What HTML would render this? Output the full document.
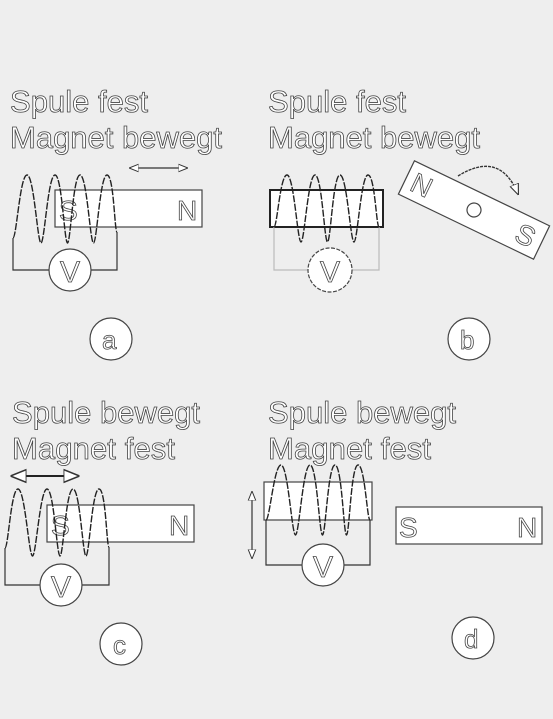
<!DOCTYPE html>
<html><head><meta charset="utf-8"><style>
html,body{margin:0;padding:0;background:#eeeeee;}
svg{display:block}
.t{font-family:"Liberation Sans",sans-serif;fill:#fff;stroke:#444;stroke-width:0.8;}
.coil{fill:none;stroke:#222;stroke-width:1.4;stroke-dasharray:7 1.5;}
.w{fill:none;stroke:#333;stroke-width:1.2}
.mag{fill:#fff;stroke:#444;stroke-width:1.2}
</style></head><body>
<svg id="s" width="553" height="719" viewBox="0 0 553 719">
<defs>
<marker id="ah" viewBox="0 0 10 10" refX="9" refY="5" markerWidth="8" markerHeight="8" orient="auto-start-reverse"><path d="M0,1 L10,5 L0,9 z" fill="#fff" stroke="#333" stroke-width="1"/></marker>
</defs>

<g>
<text class="t" x="10" y="112" font-size="31" textLength="138">Spule fest</text>
<text class="t" x="10" y="148" font-size="31" textLength="212">Magnet bewegt</text>
<line class="w" x1="130" y1="168" x2="187" y2="168" stroke-width="1" marker-start="url(#ah)" marker-end="url(#ah)"/>
<rect class="mag" x="55" y="190" width="147" height="37"/>
<text class="t" x="59" y="220" font-size="28">S</text>
<text class="t" x="177" y="220" font-size="28">N</text>
<path class="w" d="M13,238 V270 H49 M91,270 H117 V232"/>
<circle class="mag" cx="70" cy="270" r="21"/>
<text class="t" x="60" y="282" font-size="30">V</text>
<path class="coil" id="coilA"/>
<circle class="mag" cx="111" cy="339" r="21"/>
<text class="t" x="102" y="349" font-size="26">a</text>
</g>

<g>
<text class="t" x="268" y="112" font-size="31" textLength="138">Spule fest</text>
<text class="t" x="268" y="148" font-size="31" textLength="212">Magnet bewegt</text>
<rect x="270" y="190" width="113" height="37" fill="#fff" stroke="#222" stroke-width="2"/>
<path d="M274,227 V270 H308 M352,270 H379 V227" fill="none" stroke="#bbb" stroke-width="1.2"/>
<circle class="mag" cx="330" cy="270" r="22" stroke-dasharray="4 1.5"/>
<text class="t" x="320" y="282" font-size="30">V</text>
<path class="coil" id="coilB"/>
<g transform="translate(474,210) rotate(25.7)">
<rect class="mag" x="-75" y="-18.5" width="150" height="37"/>
<circle class="mag" cx="0" cy="0" r="7"/>
<text class="t" x="-68" y="10" font-size="28">N</text>
<text class="t" x="48" y="10" font-size="28">S</text>
</g>
<path d="M458,176 Q500,150 518,194" fill="none" stroke="#333" stroke-width="1.4" stroke-dasharray="3 1" marker-end="url(#ah)"/>
<circle class="mag" cx="469" cy="339" r="21"/>
<text class="t" x="460" y="349" font-size="26">b</text>
</g>

<g>
<text class="t" x="12" y="423" font-size="31" textLength="188">Spule bewegt</text>
<text class="t" x="12" y="459" font-size="31" textLength="163">Magnet fest</text>
<line x1="12" y1="476" x2="78" y2="476" stroke="#222" stroke-width="2" marker-start="url(#ah)" marker-end="url(#ah)"/>
<rect class="mag" x="47" y="505" width="147" height="37"/>
<text class="t" x="51" y="535" font-size="28">S</text>
<text class="t" x="169" y="535" font-size="28">N</text>
<path class="w" d="M5,548 V585 H40 M82,585 H109 V547"/>
<circle class="mag" cx="61" cy="585" r="21"/>
<text class="t" x="51" y="597" font-size="30">V</text>
<path class="coil" id="coilC"/>
<circle class="mag" cx="121" cy="644" r="21"/>
<text class="t" x="113" y="654" font-size="26">c</text>
</g>

<g>
<text class="t" x="268" y="423" font-size="31" textLength="188">Spule bewegt</text>
<text class="t" x="268" y="459" font-size="31" textLength="163">Magnet fest</text>
<rect class="mag" x="264" y="482" width="108" height="38"/>
<path class="w" d="M266,520 V565 H302 M344,565 H370 V520"/>
<circle class="mag" cx="323" cy="565" r="21"/>
<text class="t" x="313" y="577" font-size="30">V</text>
<path class="coil" id="coilD"/>
<line class="w" x1="252" y1="492" x2="252" y2="558" marker-start="url(#ah)" marker-end="url(#ah)"/>
<rect class="mag" x="396" y="507" width="146" height="37"/>
<text class="t" x="399" y="537" font-size="28">S</text>
<text class="t" x="517" y="537" font-size="28">N</text>
<circle class="mag" cx="473" cy="638" r="21"/>
<text class="t" x="464" y="648" font-size="26">d</text>
</g>
</svg>
<script>
function coil(peaks, top, bot, x0, y0, xe, ye){
  var d = "M"+x0+","+y0;
  var px = x0, py = y0;
  for (var i=0;i<peaks.length;i++){
    var p = peaks[i];
    var k = 0.25*(p-px);
    d += " C"+(px+k)+","+py+" "+(p-7)+","+top+" "+p+","+top;
    var nx = (i<peaks.length-1) ? (p+peaks[i+1])/2 : xe;
    var ny = (i<peaks.length-1) ? bot : ye;
    var k2 = 0.25*(nx-p);
    d += " C"+(p+7)+","+top+" "+(nx-k2)+","+ny+" "+nx+","+ny;
    px = nx; py = ny;
  }
  return d;
}
document.getElementById('coilA').setAttribute('d', coil([27,55,80,107],175,243,13,238,117,232));
document.getElementById('coilB').setAttribute('d', coil([287,315,340,368],175,242,274,227,379,227));
document.getElementById('coilC').setAttribute('d', coil([18,47,73,99],489,556,5,548,109,547));
document.getElementById('coilD').setAttribute('d', coil([281,310,335,358],465,535,266,520,370,520));
</script>
</body></html>
